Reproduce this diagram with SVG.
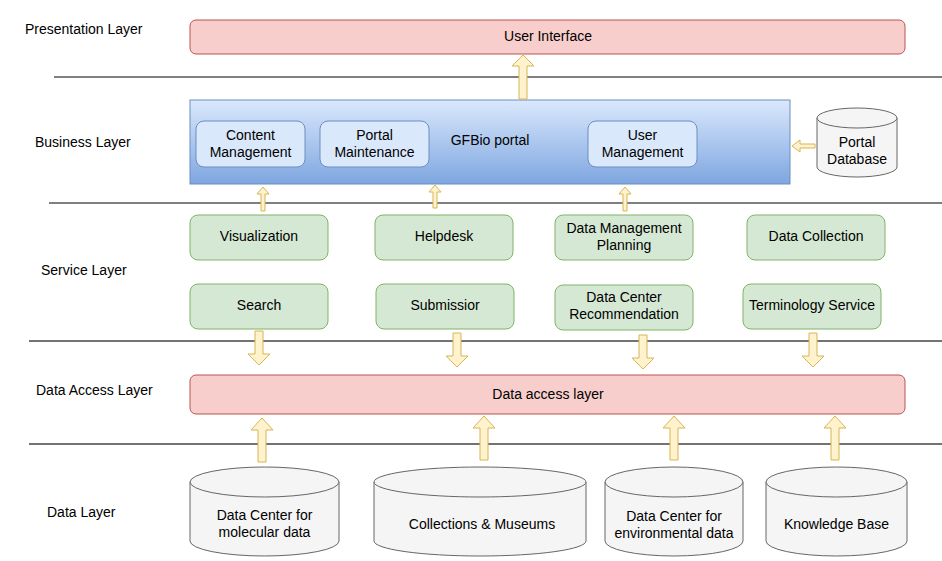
<svg xmlns="http://www.w3.org/2000/svg" width="942" height="561" viewBox="0 0 942 561">
  <style>
    text { font-family: "Liberation Sans", Arial, sans-serif; font-size: 14px; fill: #000; }
    .mid { text-anchor: middle; }
    .sep { stroke: #000; stroke-width: 1; fill: none; }
    .sep2 { stroke: #444; stroke-width: 1.6; fill: none; }
    .pink { fill: #f8cecc; stroke: #b85450; stroke-width: 1; }
    .blue { fill: #dae8fc; stroke: #6c8ebf; stroke-width: 1; }
    .green { fill: #d5e8d4; stroke: #82b366; stroke-width: 1; }
    .cyl { fill: #f5f5f5; stroke: #666666; stroke-width: 1; }
    .barrow { fill: #fff2cc; stroke: #d6b656; stroke-width: 1; }
  </style>
  <defs>
    <linearGradient id="portalGrad" x1="0" y1="0" x2="0" y2="1">
      <stop offset="0" stop-color="#dae8fc"/>
      <stop offset="1" stop-color="#7ea6e0"/>
    </linearGradient>
  </defs>
  <rect width="942" height="561" fill="#ffffff"/>

  <!-- layer separators and labels -->
  <g id="layers">
    <line class="sep" x1="54" y1="77" x2="942" y2="77"/>
    <line class="sep" x1="49" y1="203" x2="942" y2="203"/>
    <line class="sep2" x1="29" y1="341" x2="942" y2="341"/>
    <line class="sep2" x1="29" y1="444" x2="942" y2="444"/>
    <text x="25" y="34">Presentation Layer</text>
    <text x="35" y="147">Business Layer</text>
    <text x="41" y="275">Service Layer</text>
    <text x="36" y="395">Data Access Layer</text>
    <text x="47" y="517">Data Layer</text>
  </g>

  <!-- presentation -->
  <g id="user-interface">
    <rect class="pink" x="190" y="20" width="715" height="34" rx="6"/>
    <text class="mid" x="548" y="41">User Interface</text>
  </g>

  <!-- business -->
  <g id="gfbio-portal">
    <rect x="190" y="100" width="600" height="84" fill="url(#portalGrad)" stroke="#6c8ebf"/>
    <text class="mid" x="490" y="145">GFBio portal</text>
  </g>
  <g id="content-management">
    <rect class="blue" x="196" y="121" width="109" height="46" rx="8"/>
    <text class="mid" x="250.5" y="140">Content</text>
    <text class="mid" x="250.5" y="157">Management</text>
  </g>
  <g id="portal-maintenance">
    <rect class="blue" x="320" y="121" width="109" height="46" rx="8"/>
    <text class="mid" x="374.5" y="140">Portal</text>
    <text class="mid" x="374.5" y="157">Maintenance</text>
  </g>
  <g id="user-management">
    <rect class="blue" x="588" y="121" width="109" height="46" rx="8"/>
    <text class="mid" x="642.5" y="140">User</text>
    <text class="mid" x="642.5" y="157">Management</text>
  </g>
  <g id="portal-database">
    <path class="cyl" d="M817,118 a40,10 0 0 1 80,0 v49 a40,10 0 0 1 -80,0 Z"/>
    <path class="cyl" d="M817,118 a40,10 0 0 0 80,0" fill="none"/>
    <text class="mid" x="857" y="147">Portal</text>
    <text class="mid" x="857" y="164">Database</text>
  </g>

  <!-- service -->
  <g id="visualization">
    <rect class="green" x="190" y="215" width="138" height="45" rx="8"/>
    <text class="mid" x="259" y="241">Visualization</text>
  </g>
  <g id="helpdesk">
    <rect class="green" x="375" y="215" width="138" height="45" rx="8"/>
    <text class="mid" x="444" y="241">Helpdesk</text>
  </g>
  <g id="data-management-planning">
    <rect class="green" x="555" y="215" width="138" height="45" rx="8"/>
    <text class="mid" x="624" y="233">Data Management</text>
    <text class="mid" x="624" y="250">Planning</text>
  </g>
  <g id="data-collection">
    <rect class="green" x="747" y="215" width="138" height="45" rx="8"/>
    <text class="mid" x="816" y="241">Data Collection</text>
  </g>
  <g id="search">
    <rect class="green" x="190" y="284" width="138" height="45" rx="8"/>
    <text class="mid" x="259" y="310">Search</text>
  </g>
  <g id="submission">
    <rect class="green" x="376" y="284" width="138" height="45" rx="8"/>
    <text class="mid" x="445" y="310">Submissior</text>
  </g>
  <g id="data-center-recommendation">
    <rect class="green" x="555" y="285" width="138" height="45" rx="8"/>
    <text class="mid" x="624" y="302">Data Center</text>
    <text class="mid" x="624" y="319">Recommendation</text>
  </g>
  <g id="terminology-service">
    <rect class="green" x="743" y="284" width="138" height="45" rx="8"/>
    <text class="mid" x="812" y="310">Terminology Service</text>
  </g>

  <!-- data access -->
  <g id="data-access-layer">
    <rect class="pink" x="190" y="375" width="715" height="39" rx="6"/>
    <text class="mid" x="548" y="399">Data access layer</text>
  </g>

  <!-- data stores -->
  <g id="dc-molecular">
    <path class="cyl" d="M190,482 a74.5,15 0 0 1 149,0 v59 a74.5,15 0 0 1 -149,0 Z"/>
    <path class="cyl" d="M190,482 a74.5,15 0 0 0 149,0" fill="none"/>
    <text class="mid" x="264.5" y="520">Data Center for</text>
    <text class="mid" x="264.5" y="537">molecular data</text>
  </g>
  <g id="collections-museums">
    <path class="cyl" d="M374,482 a106,15 0 0 1 212,0 v59 a106,15 0 0 1 -212,0 Z"/>
    <path class="cyl" d="M374,482 a106,15 0 0 0 212,0" fill="none"/>
    <text class="mid" x="482" y="529">Collections &amp; Museums</text>
  </g>
  <g id="dc-environmental">
    <path class="cyl" d="M605,482 a69,15 0 0 1 138,0 v59 a69,15 0 0 1 -138,0 Z"/>
    <path class="cyl" d="M605,482 a69,15 0 0 0 138,0" fill="none"/>
    <text class="mid" x="674" y="521">Data Center for</text>
    <text class="mid" x="674" y="538">environmental data</text>
  </g>
  <g id="knowledge-base">
    <path class="cyl" d="M766,482 a70.5,15 0 0 1 141,0 v59 a70.5,15 0 0 1 -141,0 Z"/>
    <path class="cyl" d="M766,482 a70.5,15 0 0 0 141,0" fill="none"/>
    <text class="mid" x="836.5" y="529">Knowledge Base</text>
  </g>

  <!-- block arrows -->
  <g id="connectors">
    <!-- portal to user interface -->
    <path class="barrow" d="M519,99 V66 H512 L523,55 L534,66 H527 V99 Z"/>
    <!-- services up to portal -->
    <path class="barrow" d="M261,211 V194 H257 L263,187 L269,194 H265 V211 Z"/>
    <path class="barrow" d="M433,208 V192 H429 L435,185 L441,192 H437 V208 Z"/>
    <path class="barrow" d="M623,211 V194 H619 L625,187 L631,194 H627 V211 Z"/>
    <!-- portal database to portal -->
    <path class="barrow" d="M815,144 H800 V140 L792,146 L800,152 V148 H815 Z"/>
    <!-- services down to data access -->
    <path class="barrow" d="M255,331 V354 H248 L259,365 L270,354 H263 V331 Z"/>
    <path class="barrow" d="M453,333 V356 H446 L457,367 L468,356 H461 V333 Z"/>
    <path class="barrow" d="M639,335 V358 H632 L643,369 L654,358 H647 V335 Z"/>
    <path class="barrow" d="M809,333 V356 H802 L813,367 L824,356 H817 V333 Z"/>
    <!-- data stores up to data access -->
    <path class="barrow" d="M258,462 V430 H251 L262,418 L273,430 H266 V462 Z"/>
    <path class="barrow" d="M480,460 V428 H473 L484,416 L495,428 H488 V460 Z"/>
    <path class="barrow" d="M670,460 V428 H663 L674,416 L685,428 H678 V460 Z"/>
    <path class="barrow" d="M831,460 V428 H824 L835,416 L846,428 H839 V460 Z"/>
  </g>
</svg>
